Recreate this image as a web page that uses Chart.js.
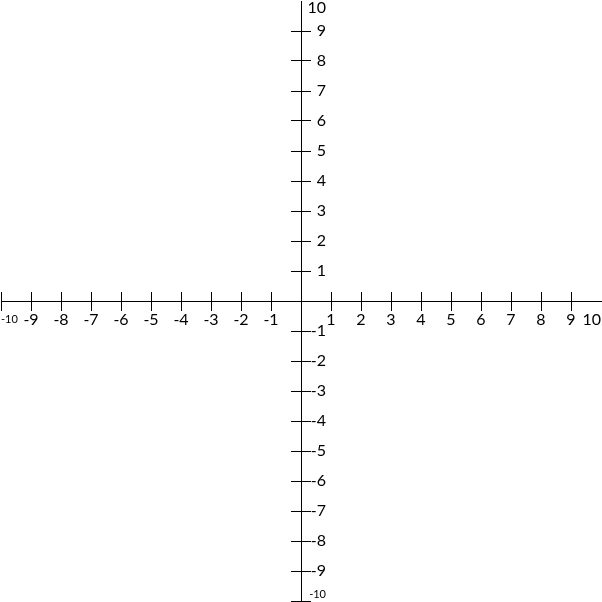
<!DOCTYPE html>
<html>
<head>
<meta charset="utf-8">
<title>Coordinate plane</title>
<script src="https://cdn.jsdelivr.net/npm/chart.js@4/dist/chart.umd.min.js"></script>
<style>
    html, body { margin: 0; padding: 0; background: #fff; }
    #wrap { width: 602px; height: 602px; }
</style>
</head>
<body>
<div id="wrap"><canvas id="plane"></canvas></div>
<script>
// Coordinate plane, both axes from -10 to 10

const axisMin = -10;
const axisMax = 10;
const tickValues = [-10, -9, -8, -7, -6, -5, -4, -3, -2, -1, 0, 1, 2, 3, 4, 5, 6, 7, 8, 9, 10];
const xTickLabels = ['-10', '-9', '-8', '-7', '-6', '-5', '-4', '-3', '-2', '-1', '', '1', '2', '3', '4', '5', '6', '7', '8', '9', '10'];
const yTickLabels = ['-10', '-9', '-8', '-7', '-6', '-5', '-4', '-3', '-2', '-1', '', '1', '2', '3', '4', '5', '6', '7', '8', '9', '10'];

const ink = '#000';
const family = 'Lato, "Open Sans", sans-serif';

// centred axes should not eat space from the plot area
function noSpace(scale) {
    if (scale.isHorizontal()) scale.height = 0; else scale.width = 0;
    scale.paddingLeft = scale.paddingRight = scale.paddingTop = scale.paddingBottom = 0;
}

function useTicks(scale) {
    scale.ticks = tickValues.map(v => ({ value: v }));
}

// the reference has no mark at the +10 end of either axis
function tickColor(ctx) {
    return ctx.tick && ctx.tick.value === axisMax ? 'rgba(0,0,0,0)' : ink;
}

function tickFont(ctx) {
    const v = ctx.tick ? ctx.tick.value : 0;
    if (v === axisMin) return { family, size: 11, lineHeight: 1.8 };
    return { family, size: 16, lineHeight: 1.2 };
}

function yTickFont(ctx) {
    const v = ctx.tick ? ctx.tick.value : 0;
    if (v === axisMin) return { family, size: 11, lineHeight: 1.2 };
    if (v === axisMax) return { family, size: 16, lineHeight: 0.8 };
    return { family, size: 16, lineHeight: 1.2 };
}

// shared bits for each axis
function baseAxis(position, tickLen, showBorder) {
    return {
        type: 'linear',
        position: position,
        min: axisMin,
        max: axisMax,
        afterBuildTicks: useTicks,
        afterFit: noSpace,
        border: { display: showBorder, color: ink, width: 1 },
        grid: {
            drawOnChartArea: false,
            drawTicks: true,
            tickLength: tickLen,
            color: tickColor,
            lineWidth: 1
        }
    };
}

const xMain = baseAxis({ y: 0 }, 9, true);
xMain.ticks = {
    autoSkip: false,
    maxRotation: 0,
    minRotation: 0,
    align: 'inner',
    padding: 0,
    color: ink,
    font: tickFont,
    callback: (value) => xTickLabels[tickValues.indexOf(value)]
};

// upper half of the x tick marks
const xUpper = baseAxis({ y: 0.3 }, 9, false);
xUpper.ticks = { display: false, autoSkip: false };

// y axis line and left half of its tick marks
const yMain = baseAxis({ x: 0 }, 10, true);
yMain.ticks = { display: false, autoSkip: false };

// right half of the y tick marks
const yRight = baseAxis({ x: 1 / 3 }, 10, false);
yRight.ticks = { display: false, autoSkip: false };

// y tick labels, right-aligned a little to the right of the axis
const yText = baseAxis({ x: 25 / 30 }, 0, false);
yText.grid = { display: false, drawTicks: false };
yText.ticks = {
    autoSkip: false,
    padding: 0,
    color: ink,
    font: yTickFont,
    callback: (value) => {
        const label = yTickLabels[tickValues.indexOf(value)];
        if (value === axisMax) return ['', label];
        if (value === axisMin) return [label, ''];
        return label;
    }
};

new Chart(document.getElementById('plane'), {
    type: 'scatter',
    data: { datasets: [{ data: [] }] },
    options: {
        responsive: true,
        maintainAspectRatio: false,
        animation: false,
        layout: { padding: { left: 1, right: 1, top: 1, bottom: 1 } },
        plugins: {
            legend: { display: false },
            tooltip: { enabled: false }
        },
        scales: {
            x: xMain,
            y: yMain,
            x2: xUpper,
            y2: yRight,
            y3: yText
        }
    }
});
</script>
</body>
</html>
